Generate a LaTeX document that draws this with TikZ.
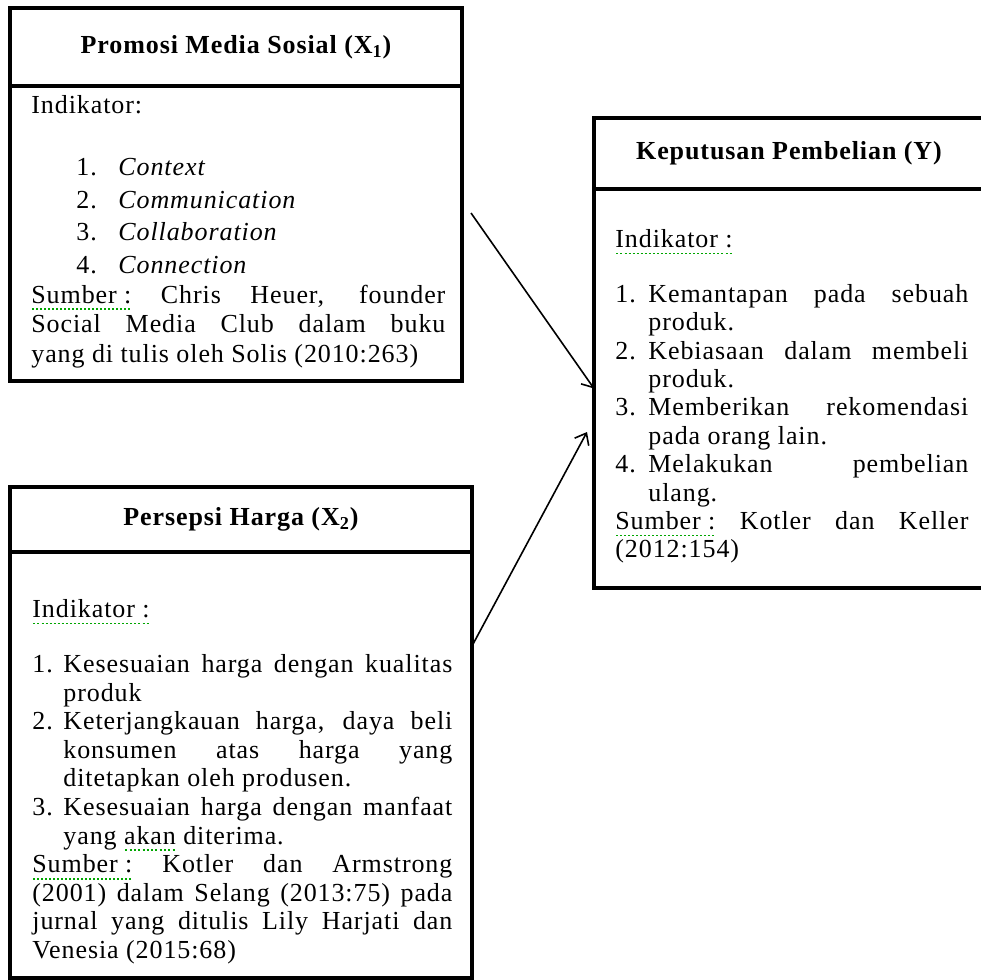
\documentclass[tikz,border=0pt]{standalone}
\usepackage{fontspec}
\setmainfont{Liberation Serif}[LetterSpace=3.5]
\usetikzlibrary{arrows.meta,positioning}

% garis koreksi ejaan hijau
\newsavebox\kata
\newcommand\salah[1]{\leavevmode\sbox\kata{#1}\rlap{\textcolor{green!65!black}{\raisebox{-3.5pt}[0pt][0pt]{\hbox to \wd\kata{\xleaders\hbox to 2pt{\hss\rule{1pt}{0.8pt}\hss}\hfill}}}}\usebox\kata}
% butir bernomor dengan indentasi gantung
\newcommand\butir[3]{\par\hangindent=#1\hangafter=1\noindent\makebox[#1][l]{#2}#3\par}

\begin{document}
\begin{tikzpicture}[x=0.5pt,y=-0.5pt,
    font=\fontsize{13}{14.3}\selectfont,
    kotak/.style={draw,line width=1.6pt,inner sep=0pt,outer sep=0pt},
    judul/.style={kotak,anchor=north west,font=\fontsize{13}{14.3}\selectfont\bfseries},
    isi/.style={anchor=north west,inner sep=0pt,align=justify},
    panah/.style={-{Straight Barb[length=5pt,width=8pt]},line width=0.8pt}]
  \fill[white] (0,0) rectangle (981,980);
  \useasboundingbox (0,0) rectangle (981,980);

  % X1
  \node[judul,minimum width=226pt,minimum height=39pt] (x1judul) at (10,8) {Promosi Media Sosial (X\textsubscript{1})};
  \node[kotak,below=0pt of x1judul,minimum width=226pt,minimum height=147.5pt] (x1isi) {};
  \node[isi,text width=207pt] (x1teks) at (31,95) {\parindent=0pt
    Indikator:\par\vspace{14.7pt}
    {\baselineskip=16.3pt
    \foreach \n/\teks in {1/Context,2/Communication,3/Collaboration,4/Connection}{
      \noindent\hspace*{22.5pt}\makebox[21pt][l]{\n.}\textit{\teks}\par}}
    \baselineskip=14.9pt
    \salah{Sumber :} Chris Heuer, founder\linebreak Social Media Club dalam buku\linebreak yang di tulis oleh Solis (2010:263)\par};

  % X2
  \node[judul,minimum width=231pt,minimum height=32.5pt] (x2judul) at (10,487) {Persepsi Harga (X\textsubscript{2})};
  \node[kotak,below=0pt of x2judul,minimum width=231pt,minimum height=213pt] (x2isi) {};
  \node[isi,text width=210pt] (x2teks) at (32,599) {\parindent=0pt
    \salah{Indikator :}\par\vspace{13.2pt}
    \butir{15.5pt}{1.}{Kesesuaian harga dengan kualitas\linebreak produk}
    \butir{15.5pt}{2.}{Keterjangkauan harga, daya beli\linebreak konsumen atas harga yang\linebreak ditetapkan oleh produsen.}
    \butir{15.5pt}{3.}{Kesesuaian harga dengan manfaat\linebreak yang \salah{akan} diterima.}
    \salah{Sumber :} Kotler dan Armstrong\linebreak (2001) dalam Selang (2013:75) pada\linebreak jurnal yang ditulis Lily Harjati dan\linebreak Venesia (2015:68)\par};

  % Y
  \node[judul,minimum width=195pt,minimum height=35.5pt] (yjudul) at (594,118) {Keputusan Pembelian (Y)};
  \node[kotak,below=0pt of yjudul,minimum width=195pt,minimum height=199.5pt] (yisi) {};
  \node[isi,text width=176.5pt] (yteks) at (615,229) {\parindent=0pt\baselineskip=14.2pt
    \salah{Indikator :}\par\vspace{13.2pt}
    \butir{16.5pt}{1.}{Kemantapan pada sebuah\linebreak produk.}
    \butir{16.5pt}{2.}{Kebiasaan dalam membeli\linebreak produk.}
    \butir{16.5pt}{3.}{Memberikan rekomendasi\linebreak pada orang lain.}
    \butir{16.5pt}{4.}{Melakukan pembelian\linebreak ulang.}
    \salah{Sumber :} Kotler dan Keller\linebreak (2012:154)\par};

  \draw[panah] ([xshift=4.5pt,yshift=10.25pt]x1isi.east) -- (yisi.west);
  \draw[panah] ([yshift=59.5pt]x2isi.east) -- ([xshift=-3.5pt,yshift=-21.75pt]yisi.west);
\end{tikzpicture}
\end{document}
